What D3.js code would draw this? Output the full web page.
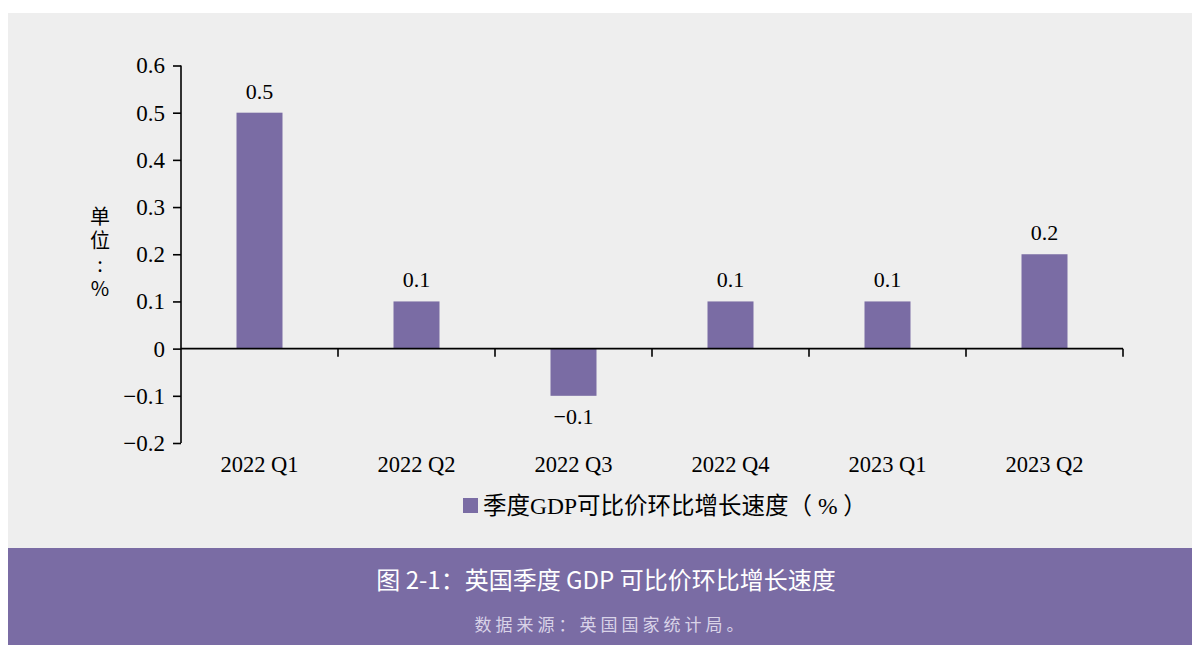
<!DOCTYPE html>
<html><head><meta charset="utf-8">
<script src="https://cdn.jsdelivr.net/npm/d3@7"></script>
<style>body{margin:0;background:#fff}svg{display:block}</style>
</head><body>
<svg id="c" width="1192" height="645"></svg>
<script>
const categories = ["2022 Q1","2022 Q2","2022 Q3","2022 Q4","2023 Q1","2023 Q2"];
const values = [0.5, 0.1, -0.1, 0.1, 0.1, 0.2];
const valueLabels = ["0.5","0.1","\u22120.1","0.1","0.1","0.2"];
const yTicks = [-0.2,-0.1,0,0.1,0.2,0.3,0.4,0.5,0.6];
const seriesName = "季度GDP可比价环比增长速度（ % ）";
const unitLabel = "单位:%";
const title = "图 2-1：英国季度 GDP 可比价环比增长速度";
const source = "数据来源：英国国家统计局。";

const svg = d3.select("#c");
const purple = "#7a6ca4";
svg.append("rect").attr("x",8).attr("y",13).attr("width",1184).attr("height",535).attr("fill","#eeeeee");
svg.append("rect").attr("x",8).attr("y",548).attr("width",1184).attr("height",97).attr("fill",purple);

const serif = "'Liberation Serif','Times New Roman',serif";
const x = d3.scaleBand().domain(categories).range([181,1123]).padding(0);
const y = d3.scaleLinear().domain([-0.2,0.6]).range([443,65.5]);
const barW = x.bandwidth()*0.293;

const g = svg.append("g");
g.selectAll("rect.bar").data(values).join("rect")
  .attr("x",(d,i)=>x(categories[i])+x.bandwidth()/2-barW/2)
  .attr("y",d=>y(Math.max(0,d)))
  .attr("width",barW)
  .attr("height",d=>Math.abs(y(d)-y(0)))
  .attr("fill",purple);

const ya = g.append("g").attr("transform","translate(181,0)")
  .call(d3.axisLeft(y).tickValues(yTicks).tickSize(8).tickPadding(8)
    .tickFormat(d=> d===0?"0":(d<0?"\u2212"+d3.format(".1f")(-d):d3.format(".1f")(d))));
ya.select(".domain").attr("stroke","#000").attr("stroke-width",1.6).attr("d","M0,443V65.5");
ya.selectAll(".tick line").attr("stroke","#000").attr("stroke-width",1.6);
ya.selectAll(".tick text").attr("font-family",serif).attr("font-size",23).attr("fill","#000");

const xa = g.append("g").attr("transform",`translate(0,${y(0)})`)
  .call(d3.axisBottom(x).tickSize(0).tickFormat(""));
xa.select(".domain").attr("stroke","#000").attr("stroke-width",1.6).attr("d","M181,0H1123");
xa.selectAll(".tick").remove();
const bounds = categories.map(c=>x(c)+x.bandwidth());
xa.selectAll("line.b").data(bounds).join("line")
  .attr("x1",d=>d).attr("x2",d=>d).attr("y1",0).attr("y2",8)
  .attr("stroke","#000").attr("stroke-width",1.6);

g.selectAll("text.cat").data(categories).join("text")
  .attr("x",d=>x(d)+x.bandwidth()/2).attr("y",472)
  .attr("text-anchor","middle").attr("font-family",serif).attr("font-size",22.5)
  .attr("fill","#000").text(d=>d);

g.selectAll("text.val").data(values).join("text")
  .attr("x",(d,i)=>x(categories[i])+x.bandwidth()/2)
  .attr("y",d=> d>=0 ? y(d)-14 : y(d)+28)
  .attr("text-anchor","middle").attr("font-family",serif).attr("font-size",22)
  .attr("fill","#000").text((d,i)=>valueLabels[i]);

// unit label, vertical writing mode
g.append("text").attr("x",100).attr("y",254)
  .attr("text-anchor","middle")
  .style("writing-mode","vertical-rl").style("text-orientation","upright")
  .attr("font-family","'Noto Sans CJK SC',sans-serif").attr("font-size",20)
  .attr("letter-spacing","4px").attr("fill","#000").text(unitLabel);

svg.append("rect").attr("x",463).attr("y",498).attr("width",15).attr("height",15).attr("fill",purple);
svg.append("text").attr("x",483).attr("y",514).attr("font-family",serif+",'Noto Sans CJK SC'")
  .attr("font-size",23.5).attr("fill","#000").text(seriesName);

svg.append("text").attr("x",606).attr("y",589).attr("text-anchor","middle")
  .attr("font-family","'Noto Sans CJK SC',sans-serif").attr("font-size",24).attr("fill","#ffffff").text(title);
svg.append("text").attr("x",611).attr("y",631).attr("text-anchor","middle")
  .attr("font-family","'Noto Sans CJK SC',sans-serif").attr("font-size",17).attr("letter-spacing","4px")
  .attr("fill","#d9d3e8").text(source);
</script>
</body></html>
